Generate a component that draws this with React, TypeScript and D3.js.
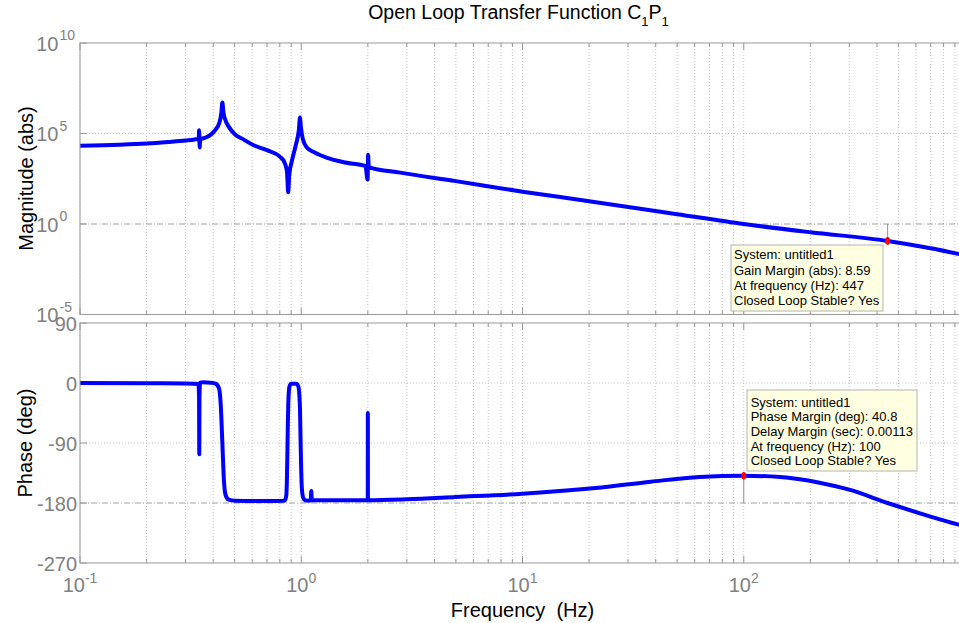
import React, { useEffect, useRef } from "react";
import * as d3 from "d3";

// magnitude (abs) vs frequency (Hz)
const magFreq = [
  0.1, 0.15, 0.2, 0.25, 0.3, 0.33, 0.344, 0.3455, 0.3475, 0.349, 0.37, 0.39, 0.41, 0.425, 0.435, 0.44,
  0.445, 0.455, 0.47, 0.5, 0.55, 0.6, 0.7, 0.8, 0.84, 0.862, 0.873, 0.882, 0.91, 0.946, 0.976, 0.9865,
  0.997, 1.018, 1.06, 1.15, 1.3, 1.58, 1.95, 1.995, 2.005, 2.02, 2.8, 5, 10, 20, 50, 100, 200, 447, 700, 1000,
];
const magAbs = [
  2.1e4, 2.4e4, 2.8e4, 3.4e4, 4.1e4, 4.7e4, 5.2e4, 1.5e5, 1.7e4, 4.6e4, 6e4, 8.7e4, 1.65e5, 3.5e5, 1.26e6, 5.1e6,
  1.45e6, 5.2e5, 2.4e5, 9.3e4, 4.6e4, 2.45e4, 1.2e4, 5.3e3, 2.5e3, 780, 56, 470, 3.6e3, 2.45e4, 1.65e5, 7.6e5,
  2.1e5, 4.6e4, 1.7e4, 8.9e3, 4.7e3, 2.5e3, 1.6e3, 283, 6.8e3, 1.4e3, 690, 234, 61, 18.3, 3.5, 1.0, 0.35, 0.1164, 0.046, 0.0187,
];

// phase (deg) vs frequency (Hz)
const phaseFreq = [
  0.1, 0.2, 0.3, 0.343, 0.3452, 0.346, 0.3468, 0.349, 0.36, 0.39, 0.41, 0.425, 0.433, 0.44, 0.447, 0.455,
  0.47, 0.5, 0.7, 0.84, 0.855, 0.862, 0.868, 0.875, 0.885, 0.9, 0.95, 0.97, 0.985, 0.995, 1.005, 1.02,
  1.04, 1.08, 1.104, 1.11, 1.116, 1.5, 1.998, 2.0, 2.002, 3, 5, 10, 22, 38, 63, 100, 146, 220, 300, 447, 693, 937, 1000,
];
const phaseDeg = [
  0, -0.3, -0.8, -1.5, -20, -107, -20, 0.5, 1, 0.5, -1, -8, -35, -90, -145, -168,
  -175, -176.5, -177, -176.5, -170, -140, -80, -25, -5, -1, -1, -5, -30, -100, -155, -172,
  -176, -176.5, -176, -162, -176, -176, -176, -45, -176, -174.5, -171, -166, -157, -148, -141, -139.2, -141, -149.5, -160, -180, -200, -212.5, -215,
];

const magTicks = [1e-5, 1e0, 1e5, 1e10];
const magTickExp = ["-5", "0", "5", "10"];
const phaseTicks = [90, 0, -90, -180, -270];
const freqTicks = [0.1, 1, 10, 100];
const freqTickExp = ["-1", "0", "1", "2"];

const gmFreq = 447;
const gainMargin = 8.59;
const pmFreq = 100;
const phaseMargin = 40.8;

const gmTip = ["System: untitled1", "Gain Margin (abs): 8.59", "At frequency (Hz): 447", "Closed Loop Stable? Yes"];
const pmTip = [
  "System: untitled1",
  "Phase Margin (deg): 40.8",
  "Delay Margin (sec): 0.00113",
  "At frequency (Hz): 100",
  "Closed Loop Stable? Yes",
];

const FONT = "'Liberation Sans', Arial, Helvetica, sans-serif";
const AXIS = "#999999";
const GRID = "#c4c4c4";
const LABEL = "#808080";

const BodePlot = () => {
  const ref = useRef<SVGSVGElement | null>(null);

  const draw = (elt: SVGSVGElement) => {
    const svg = d3.select(elt);
    svg.selectAll("*").remove();

    const left = 80, right = 965;
    const x = d3.scaleLog().domain([0.1, 1000]).range([left, right]);
    const yMag = d3.scaleLog().domain([1e-5, 1e10]).range([314.5, 43]);
    const yPh = d3.scaleLinear().domain([-270, 90]).range([563, 323]);

    const minor = x.ticks();

    const panel = (id: string, top: number, bottom: number) => {
      const g = svg.append("g");
      g.append("rect").attr("x", left).attr("y", top).attr("width", right - left).attr("height", bottom - top).attr("fill", "#fff");
      g.append("clipPath").attr("id", id).append("rect")
        .attr("x", left).attr("y", top).attr("width", right - left).attr("height", bottom - top);
      // vertical grid
      g.selectAll(".vg").data(minor).enter().append("line")
        .attr("x1", (d: number) => x(d)).attr("x2", (d: number) => x(d))
        .attr("y1", top).attr("y2", bottom)
        .attr("stroke", GRID).attr("stroke-width", 1).attr("stroke-dasharray", "1,2");
      // x ticks top and bottom
      const isMajor = (d: number) => Math.abs(Math.log10(d) - Math.round(Math.log10(d))) < 1e-6;
      g.selectAll(".tb").data(minor).enter().append("line")
        .attr("x1", (d: number) => x(d)).attr("x2", (d: number) => x(d))
        .attr("y1", bottom).attr("y2", (d: number) => bottom - (isMajor(d) ? 7 : 4))
        .attr("stroke", AXIS);
      g.selectAll(".tt").data(minor).enter().append("line")
        .attr("x1", (d: number) => x(d)).attr("x2", (d: number) => x(d))
        .attr("y1", top).attr("y2", (d: number) => top + (isMajor(d) ? 7 : 4))
        .attr("stroke", AXIS);
      return g;
    };

    const curve = d3.curveMonotoneX;

    // ---- magnitude panel
    const gm = panel("clipMag", 43, 314.5);
    gm.append("line").attr("x1", left).attr("x2", right).attr("y1", yMag(1e5)).attr("y2", yMag(1e5))
      .attr("stroke", GRID).attr("stroke-dasharray", "1,2");
    gm.append("line").attr("x1", left).attr("x2", right).attr("y1", yMag(1)).attr("y2", yMag(1))
      .attr("stroke", "#a0a0a0").attr("stroke-dasharray", "6,2,1,2");
    gm.selectAll(".yt").data(magTicks).enter().append("line")
      .attr("x1", left).attr("x2", left + 7).attr("y1", (d: number) => yMag(d)).attr("y2", (d: number) => yMag(d))
      .attr("stroke", AXIS);
    // gain margin marker line
    gm.append("line").attr("x1", x(gmFreq)).attr("x2", x(gmFreq))
      .attr("y1", yMag(1)).attr("y2", yMag(1 / gainMargin)).attr("stroke", "#909090").attr("stroke-width", 1);
    gm.append("path")
      .datum(magFreq.map((f, i) => [f, magAbs[i]]))
      .attr("clip-path", "url(#clipMag)")
      .attr("fill", "none").attr("stroke", "#0000ff").attr("stroke-width", 4)
      .attr("stroke-linejoin", "round").attr("stroke-linecap", "round")
      .attr("d", d3.line<number[]>().curve(curve).x((d) => x(d[0])).y((d) => yMag(d[1])));
    gm.append("rect").attr("x", left).attr("y", 43).attr("width", right - left).attr("height", 314.5 - 43)
      .attr("fill", "none").attr("stroke", AXIS);

    // ---- phase panel
    const gp = panel("clipPh", 323, 563);
    [0, -90].forEach((v) => {
      gp.append("line").attr("x1", left).attr("x2", right).attr("y1", yPh(v)).attr("y2", yPh(v))
        .attr("stroke", GRID).attr("stroke-dasharray", "1,2");
    });
    gp.append("line").attr("x1", left).attr("x2", right).attr("y1", yPh(-180)).attr("y2", yPh(-180))
      .attr("stroke", "#a0a0a0").attr("stroke-dasharray", "6,2,1,2");
    gp.selectAll(".yt").data(phaseTicks).enter().append("line")
      .attr("x1", left).attr("x2", left + 7).attr("y1", (d: number) => yPh(d)).attr("y2", (d: number) => yPh(d))
      .attr("stroke", AXIS);
    gp.append("line").attr("x1", x(pmFreq)).attr("x2", x(pmFreq))
      .attr("y1", yPh(-180)).attr("y2", yPh(-180 + phaseMargin)).attr("stroke", "#909090").attr("stroke-width", 1);
    gp.append("path")
      .datum(phaseFreq.map((f, i) => [f, phaseDeg[i]]))
      .attr("clip-path", "url(#clipPh)")
      .attr("fill", "none").attr("stroke", "#0000ff").attr("stroke-width", 4)
      .attr("stroke-linejoin", "round").attr("stroke-linecap", "round")
      .attr("d", d3.line<number[]>().curve(curve).x((d) => x(d[0])).y((d) => yPh(d[1])));
    gp.append("rect").attr("x", left).attr("y", 323).attr("width", right - left).attr("height", 563 - 323)
      .attr("fill", "none").attr("stroke", AXIS);

    // ---- tick labels
    magTicks.forEach((v, i) => {
      svg.append("text").attr("x", 58.5).attr("y", yMag(v) + 7.5).attr("text-anchor", "end")
        .attr("font-family", FONT).attr("font-size", 20).attr("fill", LABEL).text("10");
      svg.append("text").attr("x", 59.5).attr("y", yMag(v) - 3).attr("text-anchor", "start")
        .attr("font-family", FONT).attr("font-size", 14).attr("fill", LABEL).text(magTickExp[i]);
    });
    phaseTicks.forEach((v) => {
      svg.append("text").attr("x", 77).attr("y", yPh(v) + 7.5).attr("text-anchor", "end")
        .attr("font-family", FONT).attr("font-size", 20).attr("fill", LABEL).text(String(v));
    });
    freqTicks.forEach((v, i) => {
      const t = svg.append("text").attr("x", x(v)).attr("y", 592).attr("text-anchor", "middle")
        .attr("font-family", FONT).attr("font-size", 20).attr("fill", LABEL);
      t.append("tspan").text("10");
      t.append("tspan").attr("dy", -9).attr("font-size", 14).text(freqTickExp[i]);
    });

    // ---- axis labels and title
    svg.append("text").attr("transform", "translate(33,178.5) rotate(-90)").attr("text-anchor", "middle")
      .attr("font-family", FONT).attr("font-size", 20).attr("fill", "#000").text("Magnitude (abs)");
    svg.append("text").attr("transform", "translate(32,443) rotate(-90)").attr("text-anchor", "middle")
      .attr("font-family", FONT).attr("font-size", 20).attr("fill", "#000").text("Phase (deg)");
    svg.append("text").attr("x", (left + right) / 2).attr("y", 617).attr("text-anchor", "middle")
      .style("white-space", "pre")
      .attr("font-family", FONT).attr("font-size", 20).attr("fill", "#000").text("Frequency  (Hz)");
    const title = svg.append("text").attr("x", (left + right) / 2 - 4).attr("y", 18.5).attr("text-anchor", "middle")
      .attr("font-family", FONT).attr("font-size", 19.5).attr("fill", "#000");
    title.append("tspan").text("Open Loop Transfer Function C");
    title.append("tspan").attr("dy", 7).attr("font-size", 13).text("1");
    title.append("tspan").attr("dy", -7).text("P");
    title.append("tspan").attr("dy", 7).attr("font-size", 13).text("1");

    // ---- data tips
    const tip = (bx: number, by: number, bw: number, bh: number, lines: string[], tx: number, ty: number, dy: number) => {
      svg.append("rect").attr("x", bx).attr("y", by).attr("width", bw).attr("height", bh)
        .attr("fill", "#ffffe1").attr("stroke", "#b4b4b4");
      lines.forEach((s, i) => {
        svg.append("text").attr("x", tx).attr("y", ty + i * dy)
          .attr("font-family", FONT).attr("font-size", 13).attr("fill", "#000").text(s);
      });
    };
    tip(731, 245, 152, 66, gmTip, 734, 259.3, 15.2);
    tip(747, 390, 170, 81, pmTip, 750.7, 406.7, 14.6);

    // margin points
    svg.append("ellipse").attr("cx", x(gmFreq)).attr("cy", yMag(1 / gainMargin)).attr("rx", 2.5).attr("ry", 3.8).attr("fill", "#ff0000");
    svg.append("ellipse").attr("cx", x(pmFreq)).attr("cy", yPh(-180 + phaseMargin)).attr("rx", 2.5).attr("ry", 3.8).attr("fill", "#ff0000");
  };

  useEffect(() => {
    if (ref.current) draw(ref.current);
  }, []);

  return (
    <svg ref={ref} width={959} height={623}
      style={{ position: "absolute", left: 0, top: 0, background: "#fff" }} />
  );
};

export default function App() {
  return <BodePlot />;
}
